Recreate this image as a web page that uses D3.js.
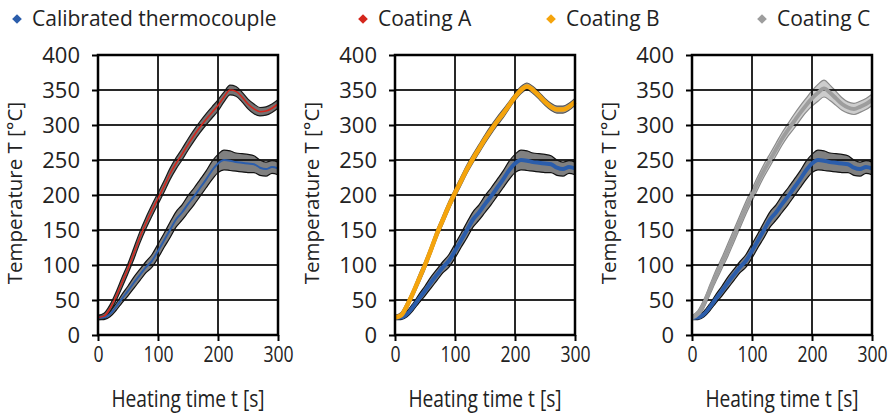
<!DOCTYPE html>
<html>
<head>
<meta charset="utf-8">
<script src="https://cdn.jsdelivr.net/npm/d3@7"></script>
<style>
  body { margin: 0; background: #fff; }
  svg text { font-family: "Open Sans", "Noto Sans", sans-serif; fill: #222; }
</style>
</head>
<body>
<svg id="chart" width="892" height="413"></svg>
<script>
// heating time [s]
var time = [0, 10, 20, 30, 40, 50, 60, 70, 80, 90, 100, 110, 120, 130, 140, 150,
            160, 170, 180, 190, 200, 210, 220, 230, 240, 250, 260, 270, 280, 290, 300];

// calibrated thermocouple [°C] and its spread
var calibrated = [25, 25, 30, 40, 52, 63, 75, 86, 97, 106, 120, 135, 150, 165, 175, 187,
                  198, 210, 222, 235, 245, 250, 249, 247, 246, 245, 244, 239, 237, 240, 238];
var calibratedErr = [3, 3, 4, 5, 6, 7, 8, 8, 8, 9, 10, 10, 11, 11, 11, 12,
                     12, 12, 12, 13, 13, 14, 14, 13, 13, 13, 12, 11, 10, 9, 9];

var coatingA = [25, 27, 38, 55, 75, 95, 117, 140, 160, 178, 195, 212, 230, 245, 258, 272,
                285, 297, 308, 318, 328, 340, 350, 348, 340, 330, 323, 319, 320, 324, 330];
var coatingAErr = [3, 4, 5, 6, 7, 7, 8, 8, 8, 8, 8, 8, 8, 8, 8, 8,
                   8, 8, 8, 8, 8, 7, 7, 7, 7, 7, 7, 6, 6, 6, 6];

var coatingB = [25, 28, 42, 60, 80, 100, 122, 145, 165, 185, 203, 220, 237, 252, 266, 280,
                293, 305, 316, 328, 340, 350, 355, 350, 342, 333, 326, 322, 322, 326, 333];
var coatingBErr = [3, 4, 5, 5, 6, 6, 6, 6, 6, 6, 6, 6, 6, 6, 6, 6,
                   6, 6, 6, 5, 5, 5, 5, 5, 5, 5, 5, 5, 5, 5, 5];

var coatingC = [25, 30, 45, 65, 85, 103, 122, 142, 162, 182, 200, 218, 235, 250, 265, 280,
                293, 305, 317, 328, 338, 346, 352, 346, 338, 330, 325, 323, 326, 330, 336];
var coatingCErr = [3, 5, 6, 7, 8, 8, 9, 9, 9, 9, 9, 9, 9, 9, 9, 9,
                   9, 10, 10, 10, 11, 12, 12, 11, 10, 9, 8, 8, 8, 8, 8];

var yTicks = [0, 50, 100, 150, 200, 250, 300, 350, 400];
var xTicks = [0, 100, 200, 300];

var legendNames = ["Calibrated thermocouple", "Coating A", "Coating B", "Coating C"];
var legendColors = ["#2b5dab", "#d4261c", "#f5a40c", "#9d9d9d"];

var panels = [
  { left: 98, values: coatingA, err: coatingAErr, color: "#d4261c", lw: 1.6, blueW: 2,
    band: "#5a5a5a", bandStroke: "#1a1a1a" },
  { left: 395, values: coatingB, err: coatingBErr, color: "#f5a40c", lw: 4.5, blueW: 4,
    band: "#8a8a8a", bandStroke: "#555" },
  { left: 692, values: coatingC, err: coatingCErr, color: "#9d9d9d", lw: 4, blueW: 4,
    band: "#c4c4c4", bandStroke: "#8a8a8a" }
];

var plotW = 180, plotTop = 55, plotBottom = 335;
var svg = d3.select("#chart");

var calData = time.map(function (t, i) { return { t: t, v: calibrated[i], e: calibratedErr[i] }; });

panels.forEach(function (p) {
  var h = plotBottom - plotTop;
  var x = d3.scaleLinear().domain([0, 300]).range([0, plotW]);
  var y = d3.scaleLinear().domain([0, 400]).range([h, 0]);
  var g = svg.append("g").attr("transform", "translate(" + p.left + "," + plotTop + ")");

  var coatData = time.map(function (t, i) { return { t: t, v: p.values[i], e: p.err[i] }; });

  var area = d3.area()
    .curve(d3.curveMonotoneX)
    .x(function (d) { return x(d.t); })
    .y0(function (d) { return y(d.v - d.e); })
    .y1(function (d) { return y(d.v + d.e); });
  var line = d3.line()
    .curve(d3.curveMonotoneX)
    .x(function (d) { return x(d.t); })
    .y(function (d) { return y(d.v); });

  // error bands
  g.append("path").datum(calData)
    .attr("d", area).attr("fill", "#6a6a6a").attr("fill-opacity", 0.85)
    .attr("stroke", "#111").attr("stroke-width", 1.2);
  g.append("path").datum(coatData)
    .attr("d", area).attr("fill", p.band).attr("fill-opacity", 0.85)
    .attr("stroke", p.bandStroke).attr("stroke-width", 1.2);

  // grid drawn as thin filled rects
  g.selectAll("rect.hgrid").data(yTicks).enter().append("rect")
    .attr("class", "hgrid")
    .attr("x", 0).attr("width", plotW)
    .attr("y", function (d) { return y(d) - 0.9; }).attr("height", 1.8)
    .attr("fill", "#111");
  g.selectAll("rect.vgrid").data(xTicks).enter().append("rect")
    .attr("class", "vgrid")
    .attr("y", 0).attr("height", h)
    .attr("x", function (d) { return x(d) - 0.9; }).attr("width", 1.8)
    .attr("fill", "#111");

  // mean curves
  g.append("path").datum(calData)
    .attr("d", line).attr("fill", "none")
    .attr("stroke", "#2b5dab").attr("stroke-width", p.blueW)
    .attr("stroke-linejoin", "round");
  g.append("path").datum(coatData)
    .attr("d", line).attr("fill", "none")
    .attr("stroke", p.color).attr("stroke-width", p.lw)
    .attr("stroke-linejoin", "round");

  // frame
  g.append("rect").attr("class", "frame").attr("width", plotW).attr("height", h)
    .attr("fill", "none").attr("stroke", "#000").attr("stroke-width", 2.5);

  var yAxis = g.append("g")
    .call(d3.axisLeft(y).tickValues(yTicks).tickSize(6).tickPadding(12).tickFormat(d3.format("d")));
  yAxis.select(".domain").remove();
  yAxis.selectAll("line").attr("stroke", "#000").attr("stroke-width", 2);
  yAxis.selectAll("text").attr("font-size", "22px").attr("font-family", "'Open Sans', sans-serif")
    .attr("fill", "#222").attr("dy", "0.35em");

  var xAxis = g.append("g").attr("transform", "translate(0," + h + ")")
    .call(d3.axisBottom(x).tickValues(xTicks).tickSize(6).tickPadding(5).tickFormat(d3.format("d")));
  xAxis.select(".domain").remove();
  xAxis.selectAll("line").attr("stroke", "#000").attr("stroke-width", 2);
  xAxis.selectAll("text").attr("font-size", "22px").attr("font-family", "'Open Sans', sans-serif")
    .attr("fill", "#222").attr("transform", "scale(0.8,1)");

  g.append("text")
    .attr("transform", "translate(" + (plotW / 2) + "," + (h + 72) + ") scale(0.8,1)")
    .attr("text-anchor", "middle").attr("font-size", "24px")
    .text("Heating time t [s]");

  g.append("text")
    .attr("transform", "translate(-76," + (h / 2 - 2) + ") rotate(-90)")
    .attr("text-anchor", "middle").attr("font-size", "20.5px")
    .text("Temperature T [°C]");
});

// legend
var legendX = [17, 363, 551, 762];
var leg = svg.append("g").attr("transform", "translate(0,19)");
legendNames.forEach(function (name, i) {
  leg.append("path")
    .attr("d", d3.symbol().type(d3.symbolDiamond2).size(60)())
    .attr("transform", "translate(" + legendX[i] + ",0)")
    .attr("fill", legendColors[i]);
  leg.append("text")
    .attr("x", legendX[i] + 15).attr("y", 0).attr("dy", "0.35em")
    .attr("font-size", "21px")
    .text(name);
});
</script>
</body>
</html>
